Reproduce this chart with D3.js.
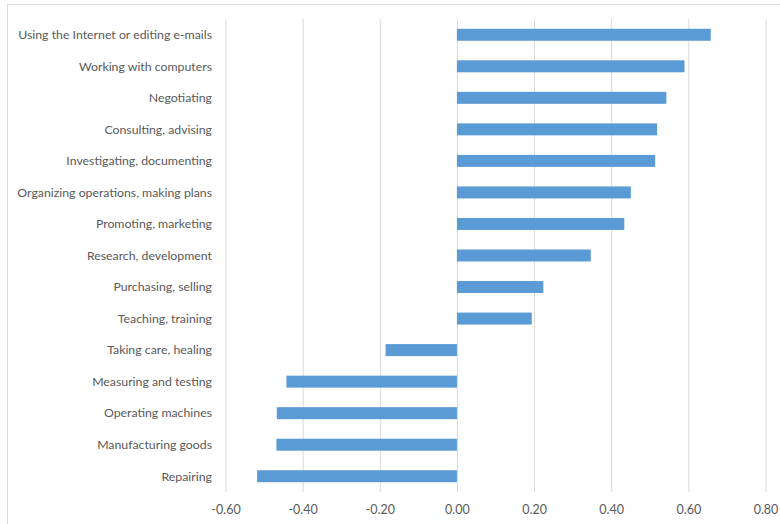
<!doctype html>
<html>
<head>
<meta charset="utf-8">
<script src="https://cdnjs.cloudflare.com/ajax/libs/d3/7.8.5/d3.min.js"></script>
<style>
  body { margin: 0; background: #fff; }
  svg { display: block; font-family: Lato, "Open Sans", sans-serif; }
</style>
</head>
<body>
<svg width="780" height="524"></svg>
<script>
// activities, top to bottom
var categories = [
  "Using the Internet or editing e-mails",
  "Working with computers",
  "Negotiating",
  "Consulting, advising",
  "Investigating, documenting",
  "Organizing operations, making plans",
  "Promoting, marketing",
  "Research, development",
  "Purchasing, selling",
  "Teaching, training",
  "Taking care, healing",
  "Measuring and testing",
  "Operating machines",
  "Manufacturing goods",
  "Repairing"
];
var values = [0.658, 0.590, 0.543, 0.519, 0.514, 0.451, 0.434, 0.347, 0.224, 0.194,
              -0.185, -0.442, -0.467, -0.468, -0.518];
var xTicks = [-0.6, -0.4, -0.2, 0, 0.2, 0.4, 0.6, 0.8];

var svg = d3.select("svg");

// chart area border (runs off the right/bottom edge)
svg.append("rect")
  .attr("x", 7.5).attr("y", 4.5)
  .attr("width", 800).attr("height", 540)
  .attr("fill", "none").attr("stroke", "#d9d9d9");

var x = d3.scaleLinear().domain([-0.6, 0.8]).range([225.5, 765.5]);
var y = d3.scaleBand().domain(categories).range([19, 492])
  .paddingInner(0.62).paddingOuter(0.31);

// vertical gridlines
var grid = d3.axisBottom(x).tickValues(xTicks).tickFormat("").tickSize(-(492 - 19));
svg.append("g")
  .attr("transform", "translate(0,492)")
  .call(grid)
  .call(g => g.select(".domain").remove())
  .call(g => g.selectAll("line").attr("stroke", "#d9d9d9"));

// tick labels, plain hyphen like the original
var fmt = d => d3.format(".2f")(d).replace("\u2212", "-");
var xAxis = d3.axisBottom(x).tickValues(xTicks).tickFormat(fmt).tickSize(0).tickPadding(13);
svg.append("g")
  .attr("transform", "translate(0,492)")
  .call(xAxis)
  .call(g => g.select(".domain").remove())
  .call(g => g.selectAll("text").attr("fill", "#595959").attr("font-size", 12.5)
    .attr("font-family", "Lato, 'Open Sans', sans-serif"));

// bars
svg.append("g").selectAll("rect")
  .data(values).enter().append("rect")
    .attr("x", d => x(Math.min(0, d)))
    .attr("y", (d, i) => y(categories[i]))
    .attr("width", d => Math.abs(x(d) - x(0)))
    .attr("height", y.bandwidth())
    .attr("fill", "#5b9bd5");

// category labels
svg.append("g").selectAll("text")
  .data(categories).enter().append("text")
    .attr("x", 212)
    .attr("y", d => y(d) + y.bandwidth() / 2)
    .attr("dy", "0.35em")
    .attr("text-anchor", "end")
    .attr("fill", "#595959")
    .attr("font-size", 12.3)
    .text(d => d);
</script>
</body>
</html>
